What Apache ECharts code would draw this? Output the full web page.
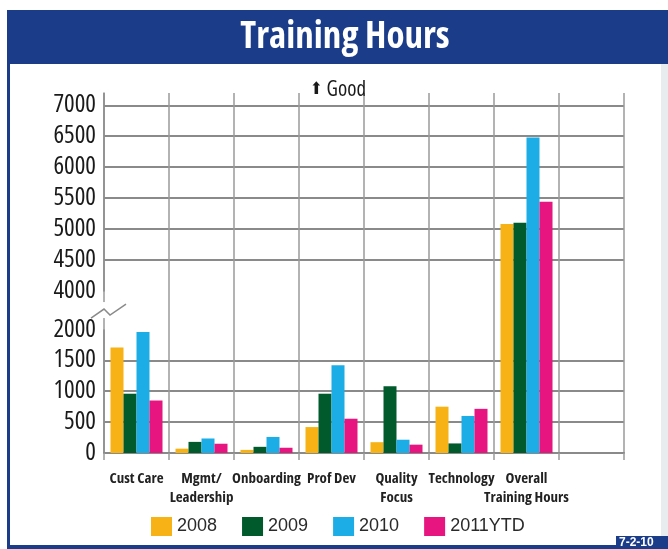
<!DOCTYPE html>
<html>
<head>
<meta charset="utf-8">
<script src="https://cdn.jsdelivr.net/npm/echarts@6/dist/echarts.min.js"></script>
<style>
  html, body { margin: 0; padding: 0; background: #ffffff; }
  #chart { width: 668px; height: 549px; }
</style>
</head>
<body>
<div id="chart"></div>
<script>
// Training hours by program area, per year
const categories = ['Cust Care', 'Mgmt/\nLeadership', 'Onboarding', 'Prof Dev', 'Quality\nFocus', 'Technology', 'Overall\nTraining Hours', ''];
const years = ['2008', '2009', '2010', '2011YTD'];
const hours2008 = [1710, 70, 50, 420, 175, 750, 5080, null];
const hours2009 = [960, 180, 100, 960, 1080, 155, 5100, null];
const hours2010 = [1960, 235, 260, 1420, 215, 600, 6480, null];
const hours2011 = [850, 150, 85, 555, 135, 715, 5440, null];
const yearColors = ['#F7B215', '#005A2C', '#1CADE6', '#E6157F'];

// "Open Sans" at condensed width (font-stretch goes in with the weight)
const condensed = '"Open Sans", "Roboto Condensed", sans-serif';
const navy = '#1B3C88';

const chart = echarts.init(document.getElementById('chart'));

const seriesData = [hours2008, hours2009, hours2010, hours2011];

const option = {
  backgroundColor: '#ffffff',
  animation: false,
  title: [
    {
      text: 'Training Hours',
      left: 340,
      top: 14,
      textAlign: 'center',
      textStyle: { color: '#ffffff', fontFamily: condensed, fontWeight: 'bold condensed', fontSize: 37 }
    },
    {
      text: '{a|⬆} Good',
      left: 333,
      top: 75,
      textAlign: 'center',
      textStyle: {
        color: '#1a1a1a', fontFamily: condensed, fontWeight: 'normal condensed', fontSize: 21,
        rich: { a: { fontFamily: '"DejaVu Sans", sans-serif', fontSize: 17, color: '#1a1a1a', padding: [0, 0, 2, 0] } }
      }
    }
  ],
  legend: {
    data: years,
    left: 146,
    top: 512,
    itemWidth: 21,
    itemHeight: 19,
    itemGap: 25,
    icon: 'rect',
    textStyle: { color: '#2a2a2a', fontFamily: '"Liberation Sans", Arial, sans-serif', fontSize: 18 }
  },
  grid: { left: 104, width: 520, top: 93, bottom: 96, containLabel: false },
  xAxis: {
    type: 'category',
    data: categories,
    boundaryGap: true,
    axisLine: { lineStyle: { color: '#8a8a8a', width: 2 } },
    axisTick: { show: true, length: 7, lineStyle: { color: '#9a9a9a', width: 1.5 } },
    splitLine: { show: true, interval: 0, lineStyle: { color: '#9a9a9a', width: 1.5 } },
    axisLabel: {
      interval: 0, margin: 16, color: '#222', fontFamily: condensed, fontWeight: 'bold condensed',
      fontSize: 15, lineHeight: 19
    }
  },
  yAxis: {
    type: 'value',
    min: 0,
    max: 7200,
    interval: 500,
    breaks: [{ start: 2000, end: 4000, gap: '10.8%' }],
    breakArea: { show: false },
    axisLine: { show: true, lineStyle: { color: '#8a8a8a', width: 1.5 } },
    axisTick: { show: false },
    axisLabel: {
      showMaxLabel: false, margin: 8, color: '#1a1a1a', fontFamily: condensed,
      fontWeight: 'normal condensed', fontSize: 25,
      formatter: (v) => String(v)
    },
    splitLine: { show: true, showMaxLine: false, lineStyle: { color: '#8a8a8a', width: 2 } }
  },
  series: years.map((name, i) => ({
    name: name,
    type: 'bar',
    data: seriesData[i],
    barGap: '0%',
    barCategoryGap: '20%',
    itemStyle: { color: yearColors[i] }
  })),
  graphic: []
};

chart.setOption(option);

// Frame, header band and the broken-axis mark
function drawDecorations() {
  const y2000 = chart.convertToPixel({ yAxisIndex: 0 }, 2000);
  const y4000 = chart.convertToPixel({ yAxisIndex: 0 }, 4000);
  const axisX = chart.convertToPixel({ xAxisIndex: 0 }, 0) - 32.5;
  const cy = (y2000 + y4000) / 2;
  chart.setOption({
    graphic: [
      { type: 'rect', z: -10, shape: { x: 7, y: 10, width: 661, height: 539 }, style: { fill: navy } },
      { type: 'rect', z: -9, shape: { x: 10, y: 64, width: 658, height: 481 }, style: { fill: '#ffffff' } },
      { type: 'rect', z: -8, shape: { x: 661, y: 64, width: 7, height: 481 }, style: { fill: '#e9ecef' } },
      { type: 'rect', z: 10, shape: { x: 616, y: 536, width: 52, height: 13 }, style: { fill: navy } },
      { type: 'text', z: 11, style: { x: 619, y: 537, text: '7-2-10', fill: '#ffffff', font: 'bold 12px "Liberation Sans", sans-serif' } },
      { type: 'rect', z: 20, shape: { x: axisX - 2, y: cy - 8, width: 4, height: 16 }, style: { fill: '#ffffff' } },
      {
        type: 'polyline', z: 21,
        shape: { points: [[axisX - 13, cy + 8], [axisX, cy - 1], [axisX + 6, cy + 5], [axisX + 22, cy - 6]] },
        style: { stroke: '#8a8a8a', lineWidth: 1.5, fill: null }
      }
    ]
  });
}
drawDecorations();
</script>
</body>
</html>
